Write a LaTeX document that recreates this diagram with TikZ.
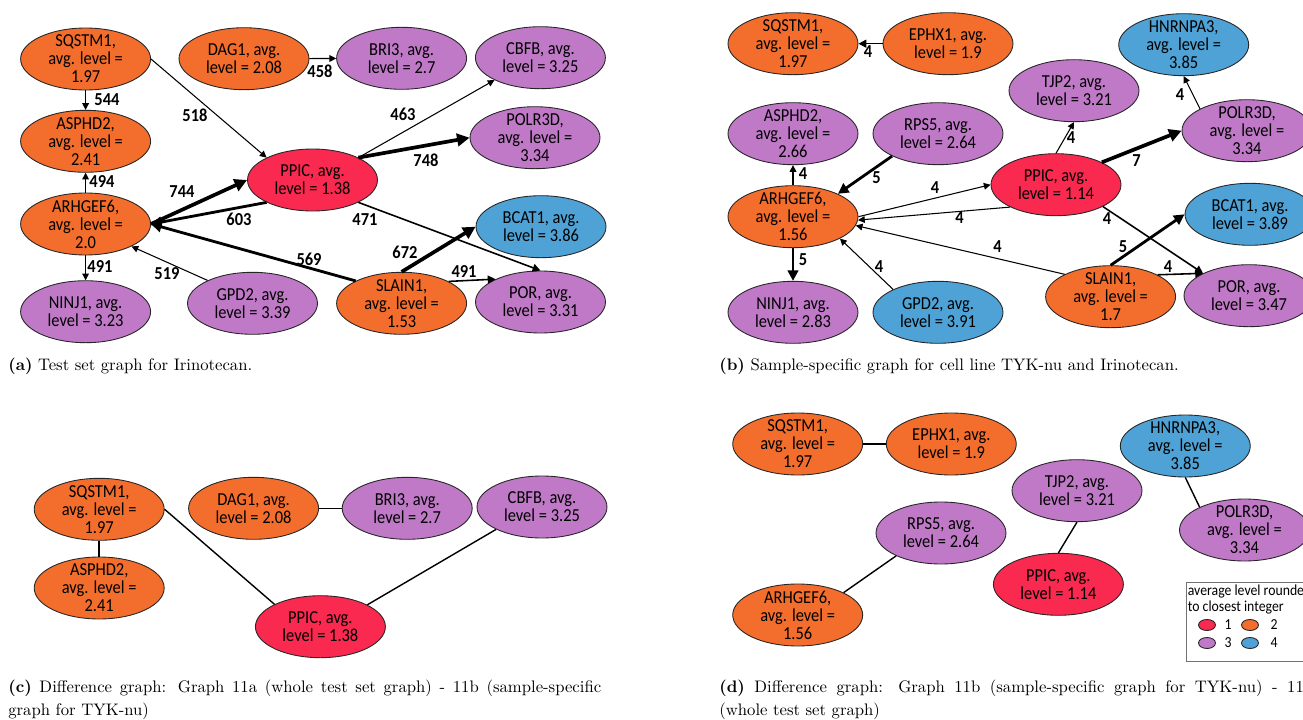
\documentclass[tikz,border=0pt]{standalone}
\usepackage{fontspec}
\newfontfamily\genefont{Carlito}[FakeStretch=0.9]
\usetikzlibrary{shapes.geometric,positioning,arrows.meta}
\definecolor{lvred}{HTML}{F9294F}
\definecolor{lvorange}{HTML}{F36D2D}
\definecolor{lvpurple}{HTML}{BF79C7}
\definecolor{lvblue}{HTML}{4FA2D5}

\begin{document}
\begin{tikzpicture}[x=0.02cm, y=-0.02cm,
  gene/.style={ellipse, draw=black!85, line width=0.5pt, minimum width=2.6cm, minimum height=1.24cm,
    inner xsep=0pt, inner ysep=-3pt, align=center, font=\genefont\fontsize{10.4}{10.2}\selectfont},
  lvone/.style={gene, fill=lvred},
  lvtwo/.style={gene, fill=lvorange},
  lvthree/.style={gene, fill=lvpurple},
  lvfour/.style={gene, fill=lvblue},
  wt/.style={inner sep=0pt, font=\genefont\fontsize{10.4}{10.4}\selectfont\bfseries},
  arrow/.style={-{Triangle[length=2.5pt 2.2, width=2.5pt 2.2]}},
  lw1/.style={line width=0.6pt},
  lw2/.style={line width=0.9pt},
  lw3/.style={line width=1.6pt},
  lw4/.style={line width=2.1pt},
  link/.style={line width=0.8pt},
  captxt/.style={inner sep=0pt, font=\fontsize{9.5}{13}\selectfont},
  legbox/.style={draw=black!55, line width=0.7pt, minimum width=3cm, minimum height=1.58cm, inner sep=0pt},
  legtxt/.style={inner sep=0pt, align=left, font=\genefont\fontsize{8.7}{8.9}\selectfont},
  legdot/.style={ellipse, draw=black!85, line width=0.5pt, minimum width=0.34cm, minimum height=0.22cm, inner sep=0pt},
]
\useasboundingbox (0,0) rectangle (1303,720);
\clip (0,0) rectangle (1303,720);

% === (a) test set graph ===
\node[lvtwo] (aSQSTM1) at (85.6,59) {SQSTM1,\\avg. level =\\1.97};
\node[lvtwo] (aDAG1) at (244,58.7) {DAG1, avg.\\level = 2.08};
\node[lvthree] (aBRI3) at (401.6,58.3) {BRI3, avg.\\level = 2.7};
\node[lvthree] (aCBFB) at (540.4,57.7) {CBFB, avg.\\level = 3.25};
\node[lvtwo] (aASPHD2) at (85.6,141.3) {ASPHD2,\\avg. level =\\2.41};
\node[lvthree] (aPOLR3D) at (535,137.7) {POLR3D,\\avg. level =\\3.34};
\node[lvone] (aPPIC) at (312.5,180) {PPIC, avg.\\level = 1.38};
\node[lvtwo] (aARHGEF6) at (85.6,224) {ARHGEF6,\\avg. level =\\2.0};
\node[lvfour] (aBCAT1) at (541,226.7) {BCAT1, avg.\\level = 3.86};
\node[lvthree] (aNINJ1) at (85.6,311.7) {NINJ1, avg.\\level = 3.23};
\node[lvthree] (aGPD2) at (252.5,303.3) {GPD2, avg.\\level = 3.39};
\node[lvtwo] (aSLAIN1) at (401.6,303.3) {SLAIN1,\\avg. level =\\1.53};
\node[lvthree] (aPOR) at (540.5,302) {POR, avg.\\level = 3.31};

\draw[arrow, lw1] (aSQSTM1) -- (aASPHD2);
\draw[arrow, lw1] (aARHGEF6) -- (aASPHD2);
\draw[arrow, lw1] (aARHGEF6) -- (aNINJ1);
\draw[arrow, lw1] (aSQSTM1.east) -- (aPPIC.154);
\draw[arrow, lw1] (aDAG1) -- (aBRI3);
\draw[arrow, lw4] (aARHGEF6.east) -- (aPPIC.west);
\draw[arrow, lw3] (aPPIC.206) -- (aARHGEF6.east);
\draw[arrow, lw3] (aSLAIN1.154) -- (aARHGEF6.east);
\draw[arrow, lw1] (aGPD2.153) -- (aARHGEF6.-26);
\draw[arrow, lw1] (aPPIC.26) -- (aCBFB.206);
\draw[arrow, lw4] (aPPIC.26) -- (aPOLR3D.west);
\draw[arrow, lw2] (aPPIC.-26) -- (aPOR.north);
\draw[arrow, lw4] (aSLAIN1.north) -- (aBCAT1.west);
\draw[arrow, lw2] (aSLAIN1.25) -- (aPOR.153);

\node[wt] (aw544) at (107,100) {544};
\node[wt] (aw518) at (195,115) {518};
\node[wt] (aw458) at (320,71) {458};
\node[wt] (aw463) at (403,114) {463};
\node[wt] (aw748) at (426,160) {748};
\node[wt] (aw494) at (102,182) {494};
\node[wt] (aw744) at (182,192) {744};
\node[wt] (aw603) at (239,219) {603};
\node[wt] (aw471) at (365,220) {471};
\node[wt] (aw569) at (309,259) {569};
\node[wt] (aw672) at (405,252) {672};
\node[wt] (aw491n) at (100,267) {491};
\node[wt] (aw519) at (167,274) {519};
\node[wt] (aw491p) at (464,272) {491};

% === (b) sample-specific graph ===
\node[lvtwo] (bSQSTM1) at (793,43.7) {SQSTM1,\\avg. level =\\1.97};
\node[lvtwo] (bEPHX1) at (948,43.7) {EPHX1, avg.\\level = 1.9};
\node[lvfour] (bHNRNPA3) at (1183.7,44.7) {HNRNPA3,\\avg. level =\\3.85};
\node[lvthree] (bTJP2) at (1074,90.7) {TJP2, avg.\\level = 3.21};
\node[lvthree] (bASPHD2) at (793,133.7) {ASPHD2,\\avg. level =\\2.66};
\node[lvthree] (bRPS5) at (938,133.7) {RPS5, avg.\\level = 2.64};
\node[lvthree] (bPOLR3D) at (1247,130.7) {POLR3D,\\avg. level =\\3.34};
\node[lvone] (bPPIC) at (1056,184.7) {PPIC, avg.\\level = 1.14};
\node[lvtwo] (bARHGEF6) at (793,216.7) {ARHGEF6,\\avg. level =\\1.56};
\node[lvfour] (bBCAT1) at (1250,214.3) {BCAT1, avg.\\level = 3.89};
\node[lvthree] (bPOR) at (1249,295.7) {POR, avg.\\level = 3.47};
\node[lvthree] (bNINJ1) at (793,312.3) {NINJ1, avg.\\level = 2.83};
\node[lvfour] (bGPD2) at (938,312.3) {GPD2, avg.\\level = 3.91};
\node[lvtwo] (bSLAIN1) at (1110.6,296.7) {SLAIN1,\\avg. level =\\1.7};

\draw[arrow, lw2] (bEPHX1) -- (bSQSTM1);
\draw[arrow, lw1] (bARHGEF6) -- (bASPHD2);
\draw[arrow, lw3] (bRPS5.206) -- (bARHGEF6.27);
\draw[arrow, lw1] (bARHGEF6.east) -- (bPPIC.west);
\draw[arrow, lw1] (bPPIC.206) -- (bARHGEF6.-3);
\draw[arrow, lw1] (bSLAIN1.154) -- (bARHGEF6.-8);
\draw[arrow, lw1] (bGPD2.153) -- (bARHGEF6.-25);
\draw[arrow, lw3] (bARHGEF6) -- (bNINJ1);
\draw[arrow, lw1] (bPPIC.north) -- (bTJP2.south);
\draw[arrow, lw4] (bPPIC.26) -- (bPOLR3D.west);
\draw[arrow, lw1] (bPOLR3D.155) -- (bHNRNPA3.south);
\draw[arrow, lw2] (bPPIC.-25) -- (bPOR.154);
\draw[arrow, lw3] (bSLAIN1.north) -- (bBCAT1.west);
\draw[arrow, lw2] (bSLAIN1.25) -- (bPOR.154);

\node[wt] (bwEPHX1) at (868,52) {4};
\node[wt] (bwASPHD2) at (803,174) {4};
\node[wt] (bwRPS5) at (876.6,178) {5};
\node[wt] (bwPPICin) at (935,188) {4};
\node[wt] (bwPPICout) at (959.6,218) {4};
\node[wt] (bwSLAINarh) at (997.5,247) {4};
\node[wt] (bwGPD2) at (879,267) {4};
\node[wt] (bwNINJ1) at (803,260) {5};
\node[wt] (bwTJP2) at (1071,138) {4};
\node[wt] (bwPOLR3D) at (1136.6,161) {7};
\node[wt] (bwHNRNPA3) at (1180,95) {4};
\node[wt] (bwPOR) at (1107,219) {4};
\node[wt] (bwBCAT1) at (1123,247) {5};
\node[wt] (bwSLAINpor) at (1168,267) {4};

% === (c) difference a - b ===
\node[lvtwo] (cSQSTM1) at (99.2,509.3) {SQSTM1,\\avg. level =\\1.97};
\node[lvtwo] (cDAG1) at (253.6,508.3) {DAG1, avg.\\level = 2.08};
\node[lvthree] (cBRI3) at (407.2,508.3) {BRI3, avg.\\level = 2.7};
\node[lvthree] (cCBFB) at (542,507) {CBFB, avg.\\level = 3.25};
\node[lvtwo] (cASPHD2) at (99.2,588) {ASPHD2,\\avg. level =\\2.41};
\node[lvone] (cPPIC) at (320.4,626.7) {PPIC, avg.\\level = 1.38};

\draw[link] (cSQSTM1) -- (cASPHD2);
\draw[link] (cDAG1) -- (cBRI3);
\draw[link] (cSQSTM1.east) -- (cPPIC.154);
\draw[link] (cCBFB.206) -- (cPPIC.25);

% === (d) difference b - a ===
\node[lvtwo] (dSQSTM1) at (797.7,444) {SQSTM1,\\avg. level =\\1.97};
\node[lvtwo] (dEPHX1) at (951.3,444) {EPHX1, avg.\\level = 1.9};
\node[lvfour] (dHNRNPA3) at (1185.3,446) {HNRNPA3,\\avg. level =\\3.85};
\node[lvthree] (dTJP2) at (1077,490.7) {TJP2, avg.\\level = 3.21};
\node[lvthree] (dRPS5) at (941,533) {RPS5, avg.\\level = 2.64};
\node[lvthree] (dPOLR3D) at (1244.5,530) {POLR3D,\\avg. level =\\3.34};
\node[lvone] (dPPIC) at (1058.4,584.3) {PPIC, avg.\\level = 1.14};
\node[lvtwo] (dARHGEF6) at (797.7,615) {ARHGEF6,\\avg. level =\\1.56};

\draw[link] (dSQSTM1) -- (dEPHX1);
\draw[link] (dHNRNPA3.south) -- (dPOLR3D.153);
\draw[link] (dTJP2.south) -- (dPPIC.north);
\draw[link] (dRPS5.207) -- (dARHGEF6.26);

% legend
\node[legbox, anchor=north west] (legend) at (1186,582) {};
\node[legtxt, anchor=north west] (legtitle) at (1187.5,585) {average level rounded\\to closest integer};
\node[legdot, fill=lvred] (key1) at (1207,625) {};
\node[legdot, fill=lvorange] (key2) at (1250,625) {};
\node[legdot, fill=lvpurple] (key3) at (1207,643) {};
\node[legdot, fill=lvblue] (key4) at (1250,643) {};
\node[legtxt] (num1) at (1228,625) {1};
\node[legtxt] (num2) at (1274,625) {2};
\node[legtxt] (num3) at (1228,643) {3};
\node[legtxt] (num4) at (1274,643) {4};

% === captions ===
\node[captxt, anchor=base west] (capa) at (8,370) {\textbf{(a)} Test set graph for Irinotecan.};
\node[captxt, anchor=base west] (capb) at (719,370) {\textbf{(b)} Sample-specific graph for cell line TYK-nu and Irinotecan.};
\node[captxt, anchor=north west, text width=11.86cm, align=justify] (capc) at (8,680)
  {\textbf{(c)} Difference graph: Graph 11a (whole test set graph) - 11b (sample-specific\linebreak graph for TYK-nu)};
\node[captxt, anchor=north west, text width=11.86cm, align=justify] (capd) at (719,680)
  {\textbf{(d)} Difference graph: Graph 11b (sample-specific graph for TYK-nu) - 11a\linebreak (whole test set graph)};

\end{tikzpicture}
\end{document}
